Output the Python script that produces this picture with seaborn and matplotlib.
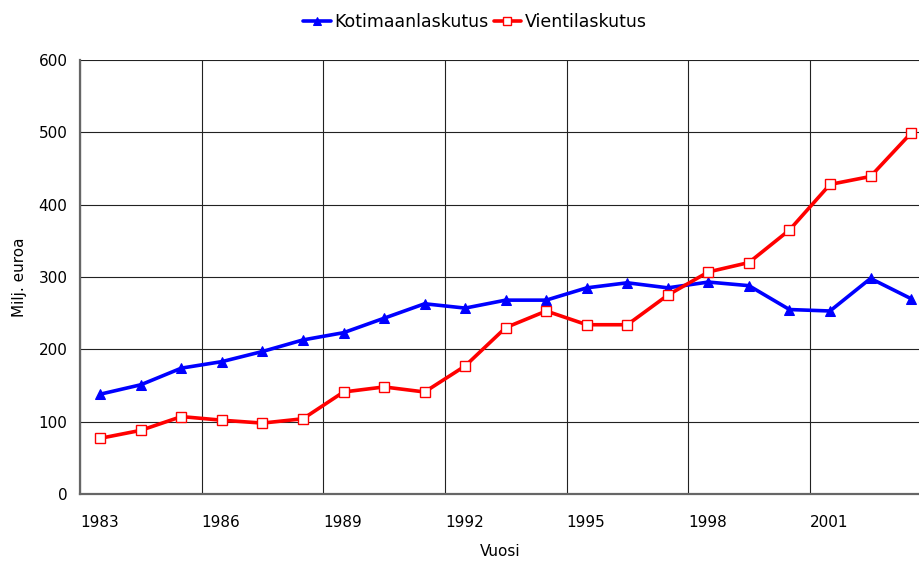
import numpy as np
import pandas as pd
import matplotlib
matplotlib.use("Agg")
import matplotlib.pyplot as plt
import seaborn as sns

# data (Milj. euroa)
years = list(range(1983, 2004))
kotimaan = [138, 151, 174, 183, 197, 213, 223, 243, 263, 257,
            268, 268, 285, 292, 285, 293, 288, 255, 253, 298, 270]
vienti = [77, 88, 107, 102, 98, 104, 141, 148, 141, 177,
          230, 253, 234, 234, 275, 307, 320, 365, 428, 439, 499]
tick_years = [1983, 1986, 1989, 1992, 1995, 1998, 2001]
y_ticks = [0, 100, 200, 300, 400, 500, 600]

sns.set_style("white")
plt.rcParams["font.family"] = ["DejaVu Sans"]
plt.rcParams["text.color"] = "black"
plt.rcParams["axes.labelcolor"] = "black"
plt.rcParams["xtick.labelcolor"] = "black"
plt.rcParams["ytick.labelcolor"] = "black"

df = pd.DataFrame({"Vuosi": years, "Kotimaanlaskutus": kotimaan, "Vientilaskutus": vienti})
# points sit in the middle of each year slot
df["x"] = df["Vuosi"] + 0.5

fig = plt.figure(figsize=(9.2, 5.63), dpi=100)
ax = fig.add_axes([0.087, 0.1226, 0.913, 0.7708])

sns.lineplot(data=df, x="x", y="Kotimaanlaskutus", ax=ax, color="#0000ff", lw=2.6,
             marker="^", markersize=7.5, markeredgecolor="#0000ff", markerfacecolor="#0000ff",
             label="Kotimaanlaskutus", zorder=3)
sns.lineplot(data=df, x="x", y="Vientilaskutus", ax=ax, color="#ff0000", lw=2.6,
             marker="s", markersize=7, markeredgecolor="#ff0000", markerfacecolor="white",
             markeredgewidth=1.0, label="Vientilaskutus", zorder=4)

ax.set_xlim(1983, 2003.72)
ax.set_ylim(0, 600)
ax.set_xticks(tick_years)
ax.set_xticklabels([str(t) for t in tick_years], ha="left", fontsize=11)
ax.set_yticks(y_ticks)
ax.set_yticklabels([str(t) for t in y_ticks], fontsize=11)
ax.tick_params(axis="both", direction="out", length=5, width=0.8, color="#555555", pad=4)
ax.tick_params(axis="x", pad=10)

ax.grid(True, color="#222222", lw=0.8)
ax.set_axisbelow(True)
for side in ["top", "right"]:
    ax.spines[side].set_visible(False)
for side in ["left", "bottom"]:
    ax.spines[side].set_color("#666666")
    ax.spines[side].set_linewidth(1.6)

ax.set_xlabel("Vuosi", fontsize=11, labelpad=10)
ax.set_ylabel("Milj. euroa", fontsize=11, labelpad=8)

leg = ax.legend(loc="upper center", bbox_to_anchor=(0.47, 1.125), ncol=2, frameon=False,
                fontsize=12.5, handlelength=1.6, handletextpad=0.2, columnspacing=0.3,
                borderaxespad=0, markerscale=0.8)

fig.savefig("out.png", dpi=100)
